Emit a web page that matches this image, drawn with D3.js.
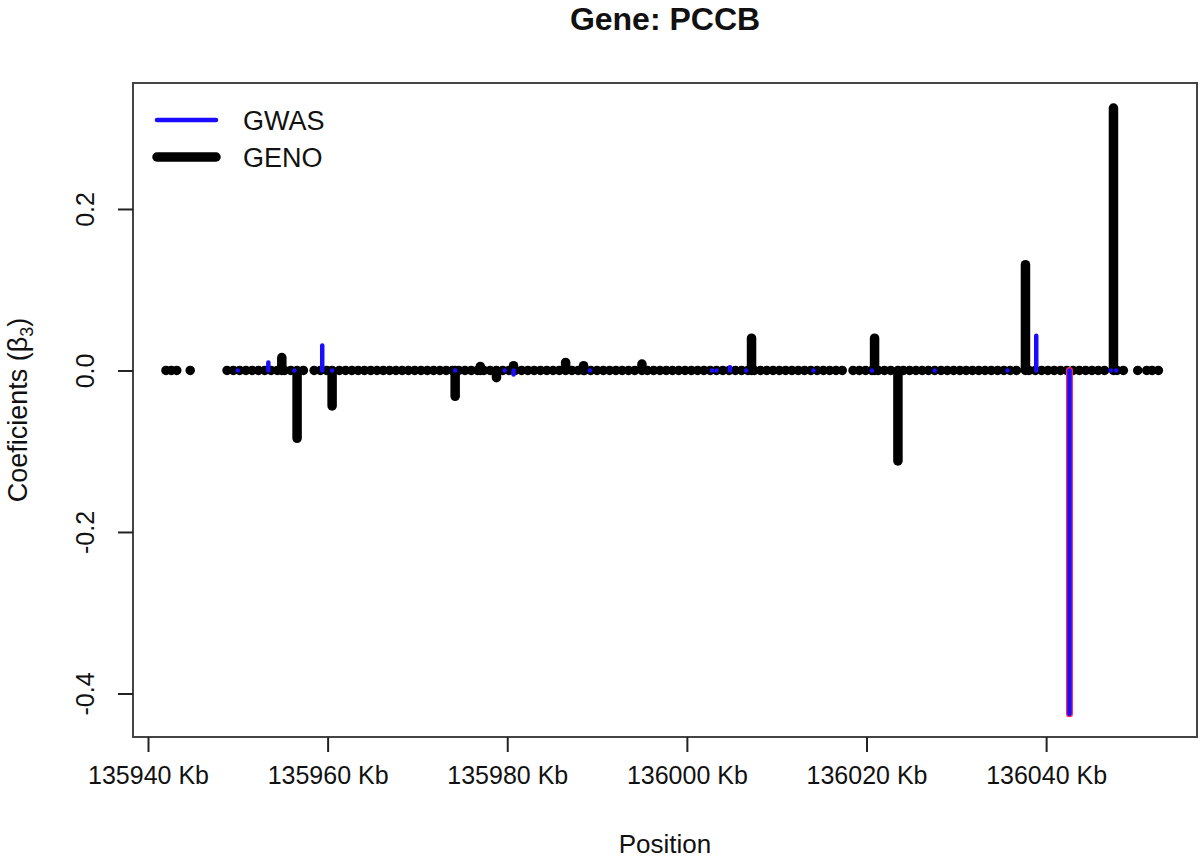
<!DOCTYPE html>
<html>
<head>
<meta charset="utf-8">
<script src="https://cdn.jsdelivr.net/npm/d3@7"></script>
<style>
  body { margin: 0; background: #fff; }
  text { font-family: "Liberation Sans", Arial, Helvetica, sans-serif; fill: #111; }
</style>
</head>
<body>
<div id="chart"></div>
<script>
// GENO coefficients that stand off the zero line (position in Kb, beta3)
const genoPos = [135954.9, 135956.6, 135960.5, 135974.2, 135977.0, 135978.8, 135980.7,
                 135986.5, 135988.5, 135995.0, 136007.2, 136020.9, 136023.5, 136037.7, 136047.5];
const genoVal = [0.016, -0.084, -0.044, -0.032, 0.005, -0.009, 0.006,
                 0.010, 0.006, 0.008, 0.040, 0.040, -0.112, 0.131, 0.325];

// GENO SNPs sitting at zero (the dense band along the baseline)
const genoZeroPos = [
  135942.0, 135942.6, 135943.2, 135944.7,
  135948.8, 135949.5, 135950.2, 135950.9, 135951.6, 135952.3, 135953.0, 135953.7, 135954.4,
  135955.2, 135955.9, 135957.3, 135958.5, 135959.2, 135959.9, 135961.3, 135962.0, 135962.7,
  135963.4, 135964.1, 135964.8, 135965.5, 135966.2, 135966.9, 135967.6, 135968.3, 135969.0,
  135969.7, 135970.4, 135971.1, 135971.8, 135972.5, 135973.2, 135973.9, 135974.6, 135975.3,
  135976.0, 135976.7, 135977.4, 135978.1, 135979.5, 135980.2, 135980.9, 135981.6, 135982.3,
  135983.0, 135983.7, 135984.4, 135985.1, 135985.8, 135987.2, 135987.9, 135988.6, 135989.3,
  135990.0, 135990.7, 135991.4, 135992.1, 135992.8, 135993.5, 135994.2, 135995.6, 135996.3,
  135997.0, 135997.7, 135998.4, 135999.1, 135999.8, 136000.5, 136001.2, 136001.9, 136002.6,
  136003.3, 136004.0, 136004.7, 136005.4, 136006.1, 136006.8, 136007.5, 136008.2, 136008.9,
  136009.6, 136010.3, 136011.0, 136011.7, 136012.4, 136013.1, 136013.8, 136014.5, 136015.2,
  136015.9, 136016.6, 136017.3, 136018.5, 136019.2, 136019.9, 136020.6, 136021.3, 136022.0,
  136022.7, 136024.1, 136024.8, 136025.5, 136026.2, 136026.9, 136027.6, 136028.3, 136029.0,
  136029.7, 136030.4, 136031.1, 136031.8, 136032.5, 136033.2, 136033.9, 136034.6, 136035.3,
  136036.0, 136036.7, 136038.1, 136038.8, 136039.5, 136040.2, 136040.9, 136041.6, 136042.3,
  136043.0, 136043.7, 136044.4, 136045.1, 136045.8, 136046.5, 136047.9, 136048.6,
  136050.2, 136051.2, 136051.8, 136052.5
];

// GWAS coefficients (blue)
const gwasPos = [135950.0, 135953.4, 135956.3, 135959.4, 135960.5, 135974.2, 135979.7, 135980.7,
                 135989.2, 136002.8, 136003.3, 136004.8, 136006.6, 136014.1, 136020.6, 136027.6,
                 136035.7, 136038.9, 136042.6, 136047.2, 136047.8];
const gwasVal = [0, 0.010, 0, 0.031, 0, 0, 0, -0.005,
                 0, 0, 0, 0.004, 0, 0, 0, 0,
                 0, 0.043, -0.425, 0, 0];

// highlighted SNP (red outline)
const highlightPos = [136042.6];
const highlightVal = [-0.425];

const xTicks = [135940, 135960, 135980, 136000, 136020, 136040];
const yTicks = [-0.4, -0.2, 0.0, 0.2];

const width = 1200, height = 861;
const margin = { left: 133, right: 1197, top: 83, bottom: 737 };

const svg = d3.select('#chart').append('svg')
    .attr('width', width)
    .attr('height', height);

const x = d3.scaleLinear()
    .domain([135938.33, 136056.8])
    .range([margin.left, margin.right]);

const y = d3.scaleLinear()
    .domain([-0.4539, 0.356])
    .range([margin.bottom, margin.top]);

const genoAll = genoZeroPos.map(p => [p, 0]).concat(genoPos.map((p, i) => [p, genoVal[i]]));

// black GENO bars
svg.append('g').selectAll('line')
    .data(genoAll)
    .enter().append('line')
    .attr('x1', d => x(d[0])).attr('x2', d => x(d[0]))
    .attr('y1', y(0)).attr('y2', d => y(d[1]))
    .attr('stroke', '#000')
    .attr('stroke-width', 9.5)
    .attr('stroke-linecap', 'round');

// red highlight
svg.append('g').selectAll('line')
    .data(highlightPos)
    .enter().append('line')
    .attr('x1', d => x(d)).attr('x2', d => x(d))
    .attr('y1', y(0)).attr('y2', (d, i) => y(highlightVal[i]))
    .attr('stroke', '#ff2a55')
    .attr('stroke-width', 7)
    .attr('stroke-linecap', 'round');

// blue GWAS bars
svg.append('g').selectAll('line')
    .data(gwasPos)
    .enter().append('line')
    .attr('x1', d => x(d)).attr('x2', d => x(d))
    .attr('y1', y(0)).attr('y2', (d, i) => y(gwasVal[i]))
    .attr('stroke', '#1a0dff')
    .attr('stroke-width', 4.5)
    .attr('stroke-linecap', 'round');

// frame
svg.append('rect')
    .attr('x', margin.left).attr('y', margin.top)
    .attr('width', margin.right - margin.left).attr('height', margin.bottom - margin.top)
    .attr('fill', 'none')
    .attr('stroke', '#444')
    .attr('stroke-width', 2);

// x axis
const xAxis = svg.append('g')
    .attr('transform', `translate(0, ${margin.bottom})`)
    .call(d3.axisBottom(x).tickValues(xTicks).tickSize(15).tickPadding(14)
        .tickFormat(d => d + ' Kb'));
xAxis.select('.domain').remove();
xAxis.selectAll('line').attr('stroke', '#222').attr('stroke-width', 2);
xAxis.selectAll('text').attr('font-size', 25).attr('fill', '#111')
    .style('font-family', '"Liberation Sans", Arial, sans-serif');

// y axis
const yAxis = svg.append('g')
    .attr('transform', `translate(${margin.left}, 0)`)
    .call(d3.axisLeft(y).tickValues(yTicks).tickSize(15)
        .tickFormat(d => d.toFixed(1)));
yAxis.select('.domain').remove();
yAxis.selectAll('line').attr('stroke', '#222').attr('stroke-width', 2);
yAxis.selectAll('text')
    .attr('font-size', 25).attr('fill', '#111')
    .style('font-family', '"Liberation Sans", Arial, sans-serif')
    .attr('transform', 'rotate(-90)')
    .attr('x', 0).attr('y', -48).attr('dy', '0.35em')
    .attr('text-anchor', 'middle');

// titles
const cx = (margin.left + margin.right) / 2;
svg.append('text')
    .attr('x', cx).attr('y', 30)
    .attr('text-anchor', 'middle')
    .attr('font-size', 32).attr('font-weight', 'bold')
    .text('Gene: PCCB');

svg.append('text')
    .attr('x', cx).attr('y', 853)
    .attr('text-anchor', 'middle')
    .attr('font-size', 26)
    .text('Position');

const ylab = svg.append('text')
    .attr('transform', `translate(27, ${(margin.top + margin.bottom) / 2}) rotate(-90)`)
    .attr('text-anchor', 'middle')
    .attr('font-size', 27);
ylab.append('tspan').text('Coeficients (β');
ylab.append('tspan').attr('font-size', 18).attr('dy', 6).text('3');
ylab.append('tspan').attr('dy', -6).text(')');

// legend
const legend = [
  { label: 'GWAS', color: '#1a0dff', w: 4.5, y: 120 },
  { label: 'GENO', color: '#000', w: 9.5, y: 157 }
];
const lg = svg.append('g');
lg.selectAll('line').data(legend).enter().append('line')
    .attr('x1', 157).attr('x2', 216)
    .attr('y1', d => d.y).attr('y2', d => d.y)
    .attr('stroke', d => d.color)
    .attr('stroke-width', d => d.w)
    .attr('stroke-linecap', 'round');
lg.selectAll('text').data(legend).enter().append('text')
    .attr('x', 243).attr('y', d => d.y).attr('dy', '0.36em')
    .attr('font-size', 27)
    .text(d => d.label);
</script>
</body>
</html>
